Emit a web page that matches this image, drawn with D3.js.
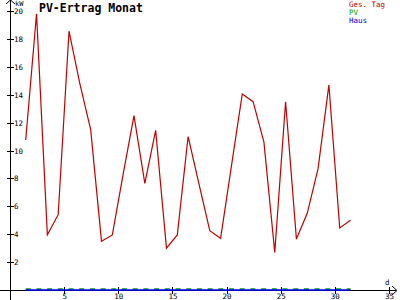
<!DOCTYPE html>
<html>
<head>
<meta charset="utf-8">
<script src="https://cdn.jsdelivr.net/npm/d3@7"></script>
<style>
  body { margin: 0; background: #fff; }
  text { font-family: "DejaVu Sans Mono", monospace; }
</style>
</head>
<body>
<div id="chart-area"></div>
<script>
// daily values (kW)
var days = [1, 2, 3, 4, 5, 6, 7, 8, 9, 10, 11, 12, 13, 14, 15, 16,
            17, 18, 19, 20, 21, 22, 23, 24, 25, 26, 27, 28, 29, 30, 31];
var gesTag = [10.75, 19.8, 3.95, 5.4, 18.55, 14.8, 11.5, 3.5, 3.95, 8.3, 12.5, 7.65,
              11.45, 3.0, 3.95, 11.0, 7.6, 4.25, 3.7, 8.9, 14.05, 13.5, 10.6, 2.7,
              13.5, 3.65, 5.5, 8.7, 14.7, 4.45, 5.0];
var pv = [0, 0, 0, 0, 0, 0, 0, 0, 0, 0, 0, 0, 0, 0, 0, 0,
          0, 0, 0, 0, 0, 0, 0, 0, 0, 0, 0, 0, 0, 0, 0];
var haus = [0, 0, 0, 0, 0, 0, 0, 0, 0, 0, 0, 0, 0, 0, 0, 0,
            0, 0, 0, 0, 0, 0, 0, 0, 0, 0, 0, 0, 0, 0, 0];
var xTicks = [5, 10, 15, 20, 25, 30, 35];
var yTicks = [2, 4, 6, 8, 10, 12, 14, 16, 18, 20];
var legendNames = ["Ges. Tag", "PV", "Haus"];
var legendColors = ["#c00000", "#00a000", "#0000ff"];

var width = 400;
var height = 300;
var dayOffset = 0.45;

var svg = d3.select("#chart-area")
  .append("svg")
  .attr("width", width)
  .attr("height", height);

var x = d3.scaleLinear().domain([0, 35]).range([10, 389]);
var y = d3.scaleLinear().domain([0, 20]).range([290, 11]);

// axes
var axes = svg.append("g")
  .attr("stroke", "#000")
  .attr("shape-rendering", "crispEdges");

axes.append("line")
  .attr("x1", 0).attr("x2", 396)
  .attr("y1", y(0) + 0.5).attr("y2", y(0) + 0.5);
axes.append("line")
  .attr("x1", x(0) + 0.5).attr("x2", x(0) + 0.5)
  .attr("y1", 0).attr("y2", height);

// arrow heads
svg.append("path")
  .attr("d", "M392," + (y(0) - 4) + " L397," + (y(0) + 0.5) + " L392," + (y(0) + 5))
  .attr("fill", "none").attr("stroke", "#000");
svg.append("path")
  .attr("d", "M" + (x(0) - 4) + ",4 L" + (x(0) + 0.5) + ",0 L" + (x(0) + 5) + ",4")
  .attr("fill", "none").attr("stroke", "#000");

axes.selectAll(".xtick")
  .data(xTicks).enter()
  .append("line")
  .attr("x1", d => Math.round(x(d)) + 0.5).attr("x2", d => Math.round(x(d)) + 0.5)
  .attr("y1", y(0) - 3).attr("y2", y(0) + 4);

axes.selectAll(".ytick")
  .data(yTicks).enter()
  .append("line")
  .attr("x1", x(0) - 3).attr("x2", x(0) + 4)
  .attr("y1", d => Math.round(y(d)) + 0.5).attr("y2", d => Math.round(y(d)) + 0.5);

svg.selectAll(".xlabel")
  .data(xTicks).enter()
  .append("text")
  .attr("x", d => x(d) + 0.5)
  .attr("y", 299)
  .attr("text-anchor", "middle")
  .attr("font-size", "7.5px")
  .text(d => d);

svg.selectAll(".ylabel")
  .data(yTicks).enter()
  .append("text")
  .attr("x", 14)
  .attr("y", d => y(d))
  .attr("dy", "0.4em")
  .attr("font-size", "7.5px")
  .text(d => d);

svg.append("text")
  .attr("x", 15).attr("y", 6)
  .attr("font-size", "7px")
  .text("kW");

svg.append("text")
  .attr("x", 385).attr("y", 285)
  .attr("font-size", "7.5px")
  .text("d");

svg.append("text")
  .attr("x", 39).attr("y", 11.5)
  .attr("font-size", "11.5px")
  .attr("font-weight", "bold")
  .text("PV-Ertrag Monat");

// series
var line = d3.line()
  .x((d, i) => x(days[i] + dayOffset))
  .y(d => y(d));

svg.append("path")
  .datum(pv)
  .attr("d", line)
  .attr("transform", "translate(0,-1)")
  .attr("fill", "none")
  .attr("stroke", legendColors[1])
  .attr("stroke-width", 1.5)
  .attr("stroke-dasharray", "5,5.7");

svg.append("path")
  .datum(haus)
  .attr("d", line)
  .attr("fill", "none")
  .attr("stroke", legendColors[2])
  .attr("stroke-width", 1.5);

svg.append("path")
  .datum(gesTag)
  .attr("d", line)
  .attr("fill", "none")
  .attr("stroke", legendColors[0])
  .attr("stroke-width", 1.2);

// legend
svg.selectAll(".legend")
  .data(legendNames).enter()
  .append("text")
  .attr("x", 349)
  .attr("y", (d, i) => 6.5 + i * 8)
  .attr("font-size", "7.5px")
  .attr("fill", (d, i) => legendColors[i])
  .text(d => d);
</script>
</body>
</html>
